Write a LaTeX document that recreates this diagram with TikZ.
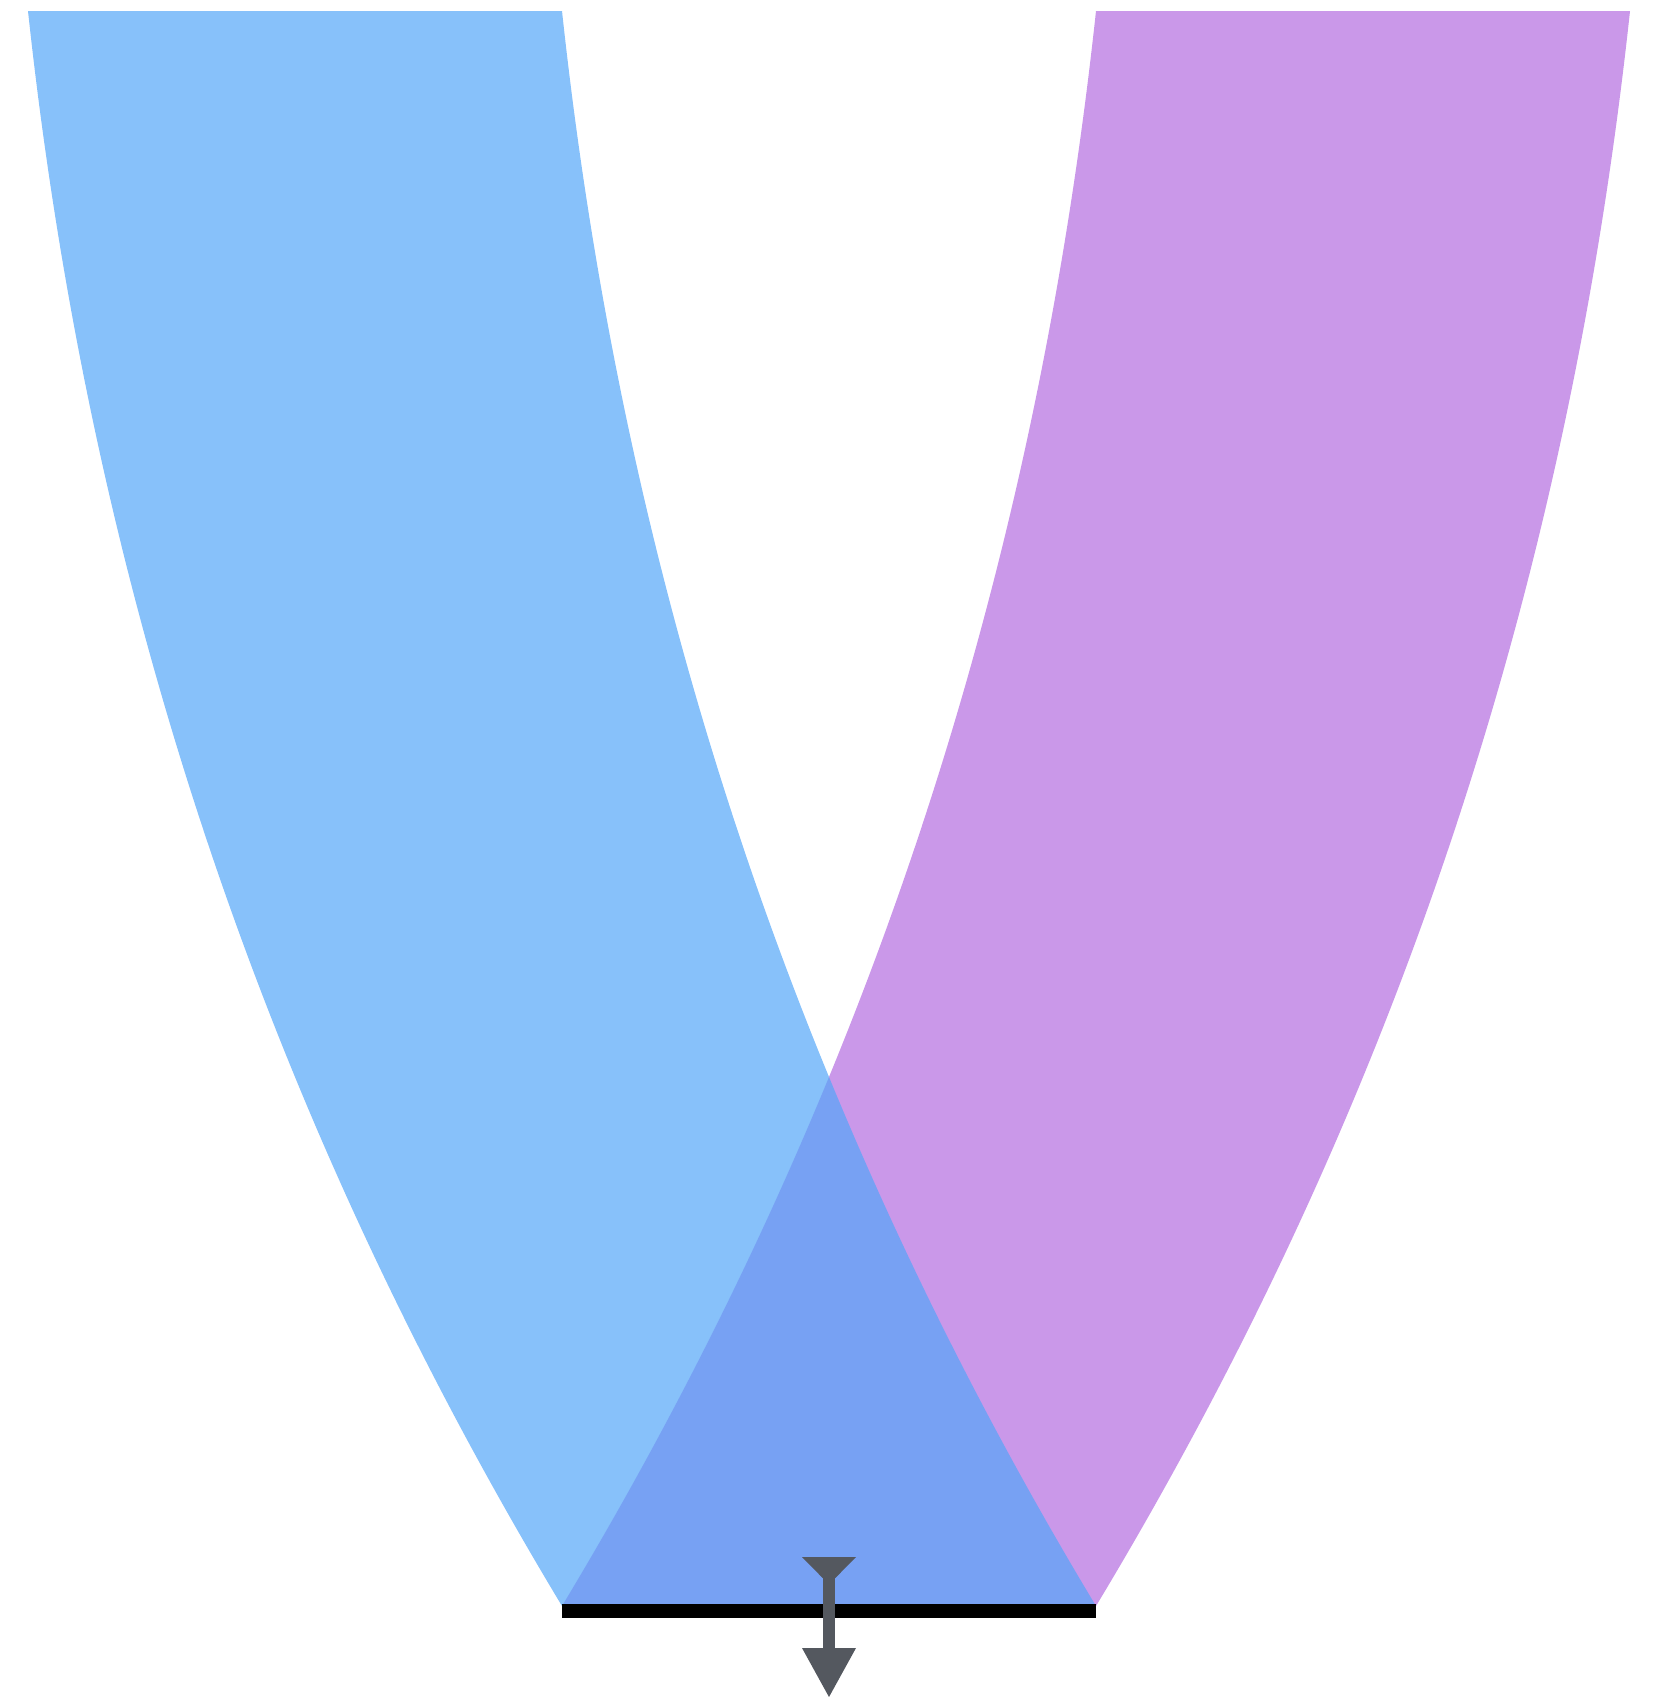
\documentclass[tikz,border=0pt]{standalone}
\definecolor{bandblue}{RGB}{84,166,248}
\definecolor{bandpurple}{RGB}{179,108,224}
\definecolor{arrowgray}{RGB}{84,88,95}
\tikzset{
  band/.style={fill=#1, opacity=0.7},
  baseline bar/.style={draw=black, line width=14pt},
  arrowpart/.style={fill=arrowgray}
}
\begin{document}
\begin{tikzpicture}[x=1pt,y=-1pt]
\useasboundingbox (0,0) rectangle (1654,1697);
% right (purple) band
\path[band=bandpurple] (1096,11) -- (1630,11)
  .. controls (1572.65,542.67) and (1416.37,1074.33) .. (1096,1606)
  -- (562,1606)
  .. controls (882.37,1074.33) and (1038.65,542.67) .. (1096,11) -- cycle;
% left (blue) band
\path[band=bandblue] (28,11) -- (562,11)
  .. controls (619.35,542.67) and (775.63,1074.33) .. (1096,1606)
  -- (562,1606)
  .. controls (241.63,1074.33) and (85.35,542.67) .. (28,11) -- cycle;
% base bar
\coordinate (barL) at (562,1610.5);
\coordinate (barR) at (1096,1610.5);
\draw[baseline bar] (barL) -- (barR);
% arrow
\coordinate (stemTop) at (829,1576);
\coordinate (stemBot) at (829,1649);
\draw[draw=arrowgray, line width=12.6pt] (stemTop) -- (stemBot);
\path[arrowpart] (802,1557) -- (856,1557) -- (835.3,1578) -- (822.7,1578) -- cycle;
\path[arrowpart] (802,1648) -- (856,1648) -- (829,1697) -- cycle;
\end{tikzpicture}
\end{document}
